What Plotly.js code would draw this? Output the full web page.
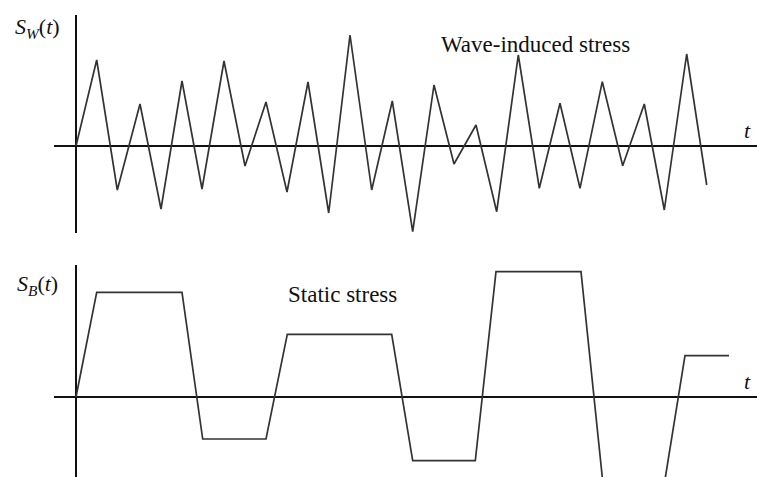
<!DOCTYPE html>
<html>
<head>
<meta charset="utf-8">
<script src="https://cdn.plot.ly/plotly-3.0.1.min.js"></script>
<style>html,body{margin:0;padding:0;background:#fff;}#chart{width:757px;height:477px;}</style>
</head>
<body>
<div id="chart"></div>
<script>
// Wave-induced stress S_W(t): turning points (time, stress)
const waveT = [0, 2.07, 4.13, 6.4, 8.5, 10.6, 12.6, 14.8, 16.9, 19.0, 21.1, 23.2, 25.27, 27.4, 29.57, 31.63, 33.67, 35.8, 37.8, 40.0, 42.07, 44.23, 46.33, 48.4, 50.4, 52.63, 54.67, 56.83, 58.83, 61.07, 63.07];
const waveS = [0, 8.6, -4.4, 4.2, -6.3, 6.5, -4.3, 8.5, -2.0, 4.4, -4.6, 6.4, -6.7, 11.1, -4.4, 4.5, -8.57, 6.1, -1.8, 2.1, -6.57, 9.1, -4.23, 4.27, -4.23, 6.43, -1.97, 4.2, -6.4, 9.2, -3.9];

// Static stress S_B(t): trapezoidal levels (time, stress)
const staticT = [0, 2.07, 10.6, 12.67, 19.0, 21.13, 31.57, 33.67, 39.93, 42.0, 50.5, 52.73, 58.78, 60.9, 65.3];
const staticS = [0, 10.47, 10.47, -4.2, -4.2, 6.27, 6.27, -6.37, -6.37, 12.53, 12.53, -9.0, -9.0, 4.13, 4.13];

const labels = {
  wave: "Wave-induced stress",
  stat: "Static stress",
  sw: "<i>S</i><sub><i>W</i></sub>(<i>t</i>)",
  sb: "<i>S</i><sub><i>B</i></sub>(<i>t</i>)",
  t: "<i>t</i>"
};

const lineStyle = {color: "#333333", width: 1.7};

const traces = [
  {x: waveT, y: waveS, type: "scatter", mode: "lines", line: lineStyle, xaxis: "x", yaxis: "y", hoverinfo: "skip"},
  {x: staticT, y: staticS, type: "scatter", mode: "lines", line: lineStyle, xaxis: "x2", yaxis: "y2", hoverinfo: "skip"}
];

const axBase = {
  showgrid: false, showline: false, showticklabels: false, ticks: "",
  zeroline: true, zerolinecolor: "#111", zerolinewidth: 1.7, fixedrange: true
};

const xDom = [54/757, 1];
const font = {family: "Liberation Serif, Times New Roman, serif", color: "#111"};

const layout = {
  width: 757, height: 477,
  margin: {l: 0, r: 0, t: 0, b: 0},
  paper_bgcolor: "#fff", plot_bgcolor: "#fff",
  showlegend: false,
  xaxis: Object.assign({}, axBase, {domain: xDom, range: [-2.2, 68.1], anchor: "y"}),
  yaxis: Object.assign({}, axBase, {domain: [(477-233)/477, (477-15)/477], range: [-8.7, 13.1], anchor: "x"}),
  xaxis2: Object.assign({}, axBase, {domain: xDom, range: [-2.2, 68.1], anchor: "y2"}),
  yaxis2: Object.assign({}, axBase, {domain: [0, (477-265)/477], range: [-8.0, 13.2], anchor: "x2"}),
  annotations: [
    {text: labels.wave, xref: "paper", yref: "paper", x: 535/757, y: (477-44)/477, xanchor: "center", yanchor: "middle", showarrow: false, font: Object.assign({size: 23}, font)},
    {text: labels.stat, xref: "paper", yref: "paper", x: 342.5/757, y: (477-294)/477, xanchor: "center", yanchor: "middle", showarrow: false, font: Object.assign({size: 23}, font)},
    {text: labels.sw, xref: "paper", yref: "paper", x: 37/757, y: (477-28)/477, xanchor: "center", yanchor: "middle", showarrow: false, font: Object.assign({size: 22}, font)},
    {text: labels.sb, xref: "paper", yref: "paper", x: 37/757, y: (477-285)/477, xanchor: "center", yanchor: "middle", showarrow: false, font: Object.assign({size: 22}, font)},
    {text: labels.t, xref: "paper", yref: "paper", x: 747/757, y: (477-130)/477, xanchor: "center", yanchor: "middle", showarrow: false, font: Object.assign({size: 22}, font)},
    {text: labels.t, xref: "paper", yref: "paper", x: 747/757, y: (477-381)/477, xanchor: "center", yanchor: "middle", showarrow: false, font: Object.assign({size: 22}, font)}
  ]
};

Plotly.newPlot("chart", traces, layout, {displayModeBar: false, staticPlot: true});
</script>
</body>
</html>
